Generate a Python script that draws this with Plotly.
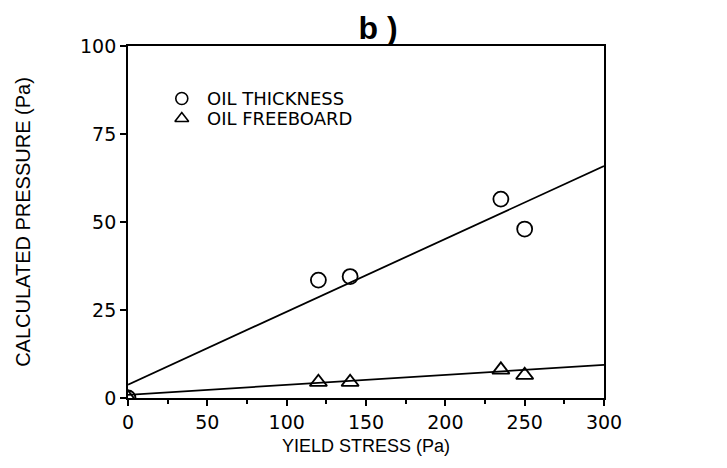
import plotly.graph_objects as go

# Data
yield_stress = [0, 120, 140, 235, 250]
oil_thickness = [0, 33.5, 34.5, 56.5, 48.0]
oil_freeboard = [0, 4.5, 4.5, 8.0, 6.5]

fit_x = [0, 300]
thickness_fit = [3.8, 65.9]
freeboard_fit = [0.9, 9.4]

x_ticks = [0, 50, 100, 150, 200, 250, 300]
y_ticks = [0, 25, 50, 75, 100]

legend_labels = ["OIL THICKNESS", "OIL FREEBOARD"]
legend_symbols = ["circle-open", "triangle-up-open"]

FONT = "Liberation Sans, Arial, sans-serif"
TFONT = "DejaVu Sans, sans-serif"

fig = go.Figure()
fig.add_trace(go.Scatter(x=fit_x, y=thickness_fit, mode="lines",
                         line=dict(color="black", width=1.8), showlegend=False))
fig.add_trace(go.Scatter(x=fit_x, y=freeboard_fit, mode="lines",
                         line=dict(color="black", width=1.8), showlegend=False))
fig.add_trace(go.Scatter(x=yield_stress, y=oil_thickness, mode="markers", showlegend=False,
                         marker=dict(symbol="circle-open", size=15, color="black", line=dict(width=1.8))))
fig.add_trace(go.Scatter(x=yield_stress, y=oil_freeboard, mode="markers", showlegend=False,
                         marker=dict(symbol="triangle-up-open", size=15, color="black", line=dict(width=1.8))))

# Manual legend (hidden unit axes)
leg_y = [0.851, 0.794]
for sym, lab, ly in zip(legend_symbols, legend_labels, leg_y):
    fig.add_trace(go.Scatter(x=[0.113], y=[ly], mode="markers", xaxis="x3", yaxis="y3",
                             showlegend=False, hoverinfo="skip",
                             marker=dict(symbol=sym, size=12, color="black", line=dict(width=1.6))))
    fig.add_annotation(x=0.162, y=ly, xref="x3", yref="y3", text=lab, showarrow=False,
                       xanchor="left", yanchor="middle",
                       font=dict(family=TFONT, size=18, color="black"))

axis_common = dict(showgrid=False, zeroline=False, linecolor="black", linewidth=1.8,
                   tickcolor="black", tickwidth=1.5, tickfont=dict(family=TFONT, size=19, color="black"))

fig.update_layout(
    width=727, height=468,
    margin=dict(l=128, r=123, t=46, b=70),
    paper_bgcolor="white", plot_bgcolor="white",
    font=dict(family=FONT, color="black"),
    title=dict(text="<b>b )</b>", x=378/727, xanchor="center", y=1-28/468, yanchor="middle",
               font=dict(family=FONT, size=32, color="black")),
    xaxis=dict(range=[0, 300], tickvals=x_ticks, ticks="outside", ticklen=6, mirror=True,
               minor=dict(dtick=25, ticks="outside", ticklen=4, tickcolor="black"),
               title=dict(text="YIELD STRESS (Pa)", font=dict(family=FONT, size=18, color="black"), standoff=8),
               **axis_common),
    yaxis=dict(range=[0, 100], tickvals=y_ticks, ticks="outside", ticklen=6, mirror=True,
               title=dict(text="CALCULATED PRESSURE (Pa)", font=dict(family=FONT, size=20, color="black"), standoff=44),
               **axis_common),
    xaxis3=dict(range=[0, 1], overlaying="x", visible=False, fixedrange=True),
    yaxis3=dict(range=[0, 1], overlaying="y", visible=False, fixedrange=True),
)

fig.write_html("out.html")
